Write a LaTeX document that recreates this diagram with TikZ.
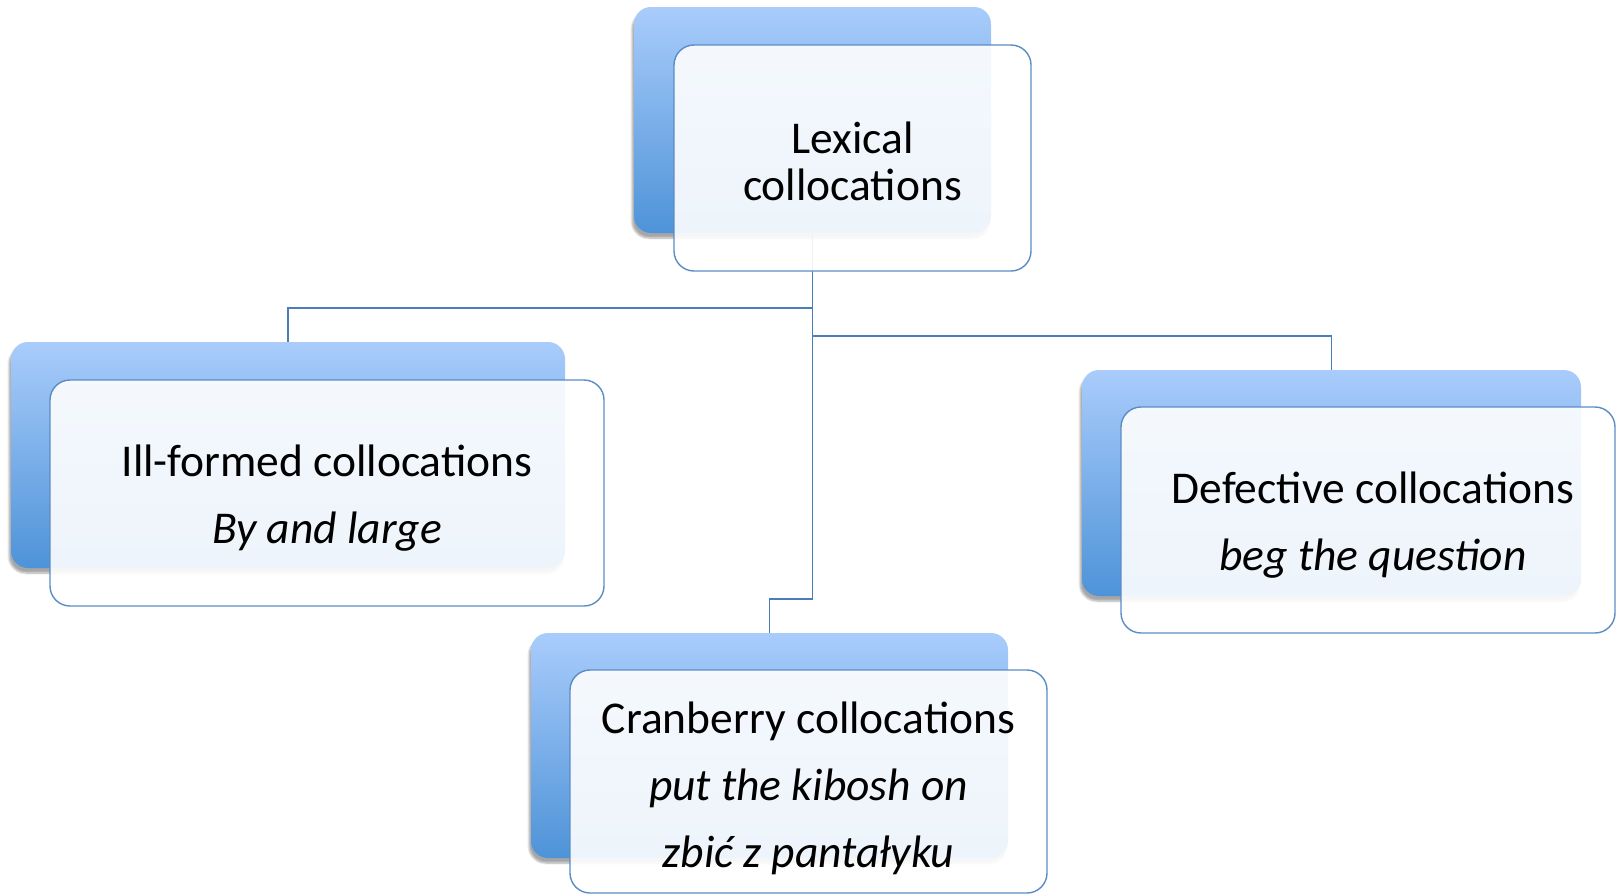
\documentclass[tikz,border=0pt]{standalone}
\usepackage{fontspec}
\setmainfont{Carlito}
\usetikzlibrary{shadows.blur}

\definecolor{linkblue}{HTML}{4A7EBB}
\definecolor{edgeblue}{HTML}{5B8CC6}
\definecolor{backtop}{HTML}{A9CCFB}
\definecolor{backbottom}{HTML}{4E93D8}

\tikzset{
  backbox/.style={rectangle, rounded corners=17pt, draw=none,
    top color=backtop, bottom color=backbottom,
    minimum width=#1, minimum height=226pt, inner sep=0pt,
    blur shadow={shadow xshift=-2pt, shadow yshift=-5pt,
      shadow blur steps=6, shadow opacity=35}},
  frontbox/.style={rectangle, rounded corners=20pt, draw=edgeblue,
    line width=1.4pt, fill=white, fill opacity=0.9,
    minimum width=#1, minimum height=226pt, inner sep=0pt},
  labeltext/.style={align=center, inner sep=0pt,
    font=\fontsize{45.5}{67}\selectfont},
  link/.style={draw=linkblue, line width=1.8pt},
}

\begin{document}
\begin{tikzpicture}[x=1pt, y=-1pt]
  \useasboundingbox (0,0) rectangle (1616,895);

  % back panels
  \node[backbox=357pt] (topb) at (812.5,120) {};
  \node[backbox=554pt] (leftb) at (288,455) {};
  \node[backbox=499pt] (rightb) at (1331.5,483) {};
  \node[backbox=477pt, minimum height=225pt] (botb) at (769.5,745.5) {};

  % elbow connectors from the root panel to its three children
  \draw[link] (topb.south) -- ++(0,75) -| (leftb.north);
  \draw[link] (topb.south) -- ++(0,103) -| (rightb.north);
  \draw[link] (topb.south) -- ++(0,366) -| (botb.north);

  % translucent front panels
  \node[frontbox=357pt] (topf) at (852.5,158) {};
  \node[frontbox=554pt] (leftf) at (327,493) {};
  \node[frontbox=494pt] (rightf) at (1368,520) {};
  \node[frontbox=477pt, minimum height=223pt] (botf) at (808.5,781.5) {};

  % labels
  \node[labeltext, font=\fontsize{45.5}{47}\selectfont, yshift=-3pt] (topt)
    at (topf.center) {Lexical\\collocations};
  \node[labeltext, yshift=-5pt] (leftt) at (leftf.center)
    {Ill-formed collocations\\\textit{By and large}};
  \node[labeltext, xshift=5pt, yshift=-5pt] (rightt) at (rightf.center)
    {Defective collocations\\\textit{beg the question}};
  \node[labeltext, yshift=-7pt] (bott) at (botf.center)
    {Cranberry collocations\\\textit{put the kibosh on}\\\textit{zbić z pantałyku}};
\end{tikzpicture}
\end{document}
